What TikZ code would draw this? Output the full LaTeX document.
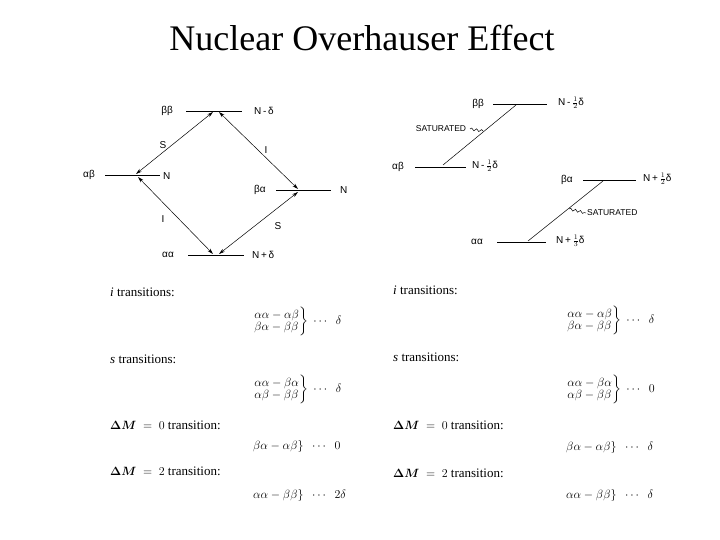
\documentclass[tikz,border=0pt]{standalone}
\usepackage{amsmath}
\usepackage{fontspec}
\setmainfont{Liberation Serif}
\setsansfont{Liberation Sans}
\usetikzlibrary{arrows.meta,decorations.pathmorphing}
\newcommand{\hf}[1]{\ensuremath{\tfrac{1}{#1}}}
\begin{document}
\begin{tikzpicture}[x=1pt,y=-1pt,
  lvl/.style={line width=0.8pt},
  lab/.style={font=\sffamily\fontsize{10}{11}\selectfont,inner sep=0pt},
  tr/.style={{Stealth[length=6pt,width=3.5pt]}-{Stealth[length=6pt,width=3.5pt]},line width=0.5pt},
  sat/.style={line width=0.5pt},
  wig/.style={decorate,decoration={snake,amplitude=1.2pt,segment length=5pt},line width=0.5pt},
  txt/.style={anchor=west,font=\fontsize{13}{15}\selectfont,inner sep=0pt},
  eq/.style={anchor=west,font=\fontsize{13}{15}\selectfont,inner sep=0pt}]
\useasboundingbox (0,0) rectangle (720,540);
\node (title) at (362,38) {\fontsize{36}{40}\selectfont Nuclear Overhauser Effect};
% left diagram
\coordinate (bbL) at (186,111); \coordinate (bbR) at (242,111);
\coordinate (abL) at (105,175); \coordinate (abR) at (160,175);
\coordinate (baL) at (276,190); \coordinate (baR) at (331,190);
\coordinate (aaL) at (188,255); \coordinate (aaR) at (244,255);
\draw[lvl] (bbL) -- (bbR); \draw[lvl] (abL) -- (abR);
\draw[lvl] (baL) -- (baR); \draw[lvl] (aaL) -- (aaR);
\node[lab] (l1) at (167,111) {ββ};
\node[lab,anchor=west] (l2) at (254,111) {N\,-\,δ};
\node[lab] (l3) at (89,175) {αβ};
\node[lab,anchor=west] (l4) at (163,176) {N};
\node[lab] (l5) at (260,190) {βα};
\node[lab,anchor=west] (l6) at (340,190) {N};
\node[lab] (l7) at (168,255) {αα};
\node[lab,anchor=west] (l8) at (252,255) {N\,+\,δ};
\coordinate (p1) at (213,112); \coordinate (p2) at (136,174);
\coordinate (p3) at (219,112); \coordinate (p4) at (298,189);
\coordinate (p5) at (213,254); \coordinate (p6) at (138,177);
\coordinate (p7) at (219,254); \coordinate (p8) at (298,192);
\draw[tr] (p2) -- (p1); \draw[tr] (p3) -- (p4);
\draw[tr] (p6) -- (p5); \draw[tr] (p7) -- (p8);
\node[lab] (s1) at (163,145) {S};
\node[lab] (i1) at (266,150) {I};
\node[lab] (i2) at (163,219) {I};
\node[lab] (s2) at (278,226) {S};
% right diagram
\coordinate (rbbL) at (493,104); \coordinate (rbbR) at (547,104);
\coordinate (rabL) at (415,167); \coordinate (rabR) at (466,167);
\coordinate (rbaL) at (583,180); \coordinate (rbaR) at (636,180);
\coordinate (raaL) at (497,242); \coordinate (raaR) at (546,242);
\draw[lvl] (rbbL) -- (rbbR); \draw[lvl] (rabL) -- (rabR);
\draw[lvl] (rbaL) -- (rbaR); \draw[lvl] (raaL) -- (raaR);
\node[lab] (r1) at (478,104) {ββ};
\node[lab,anchor=west] (r2) at (558,103) {N\,-\,\hf{2}δ};
\node[lab] (r3) at (398,167) {αβ};
\node[lab,anchor=west] (r4) at (472,166) {N\,-\,\hf{2}δ};
\node[lab] (r5) at (567,180) {βα};
\node[lab,anchor=west] (r6) at (643,179) {N\,+\,\hf{2}δ};
\node[lab] (r7) at (477,242) {αα};
\node[lab,anchor=west] (r8) at (556,241) {N\,+\,\hf{3}δ};
\coordinate (q1) at (516,105); \coordinate (q2) at (443,165);
\coordinate (q3) at (603,181); \coordinate (q4) at (528,241);
\draw[sat] (q1) -- (q2); \draw[sat] (q3) -- (q4);
\node[lab,font=\sffamily\fontsize{8.5}{9}\selectfont] (sat1) at (441,129) {SATURATED};
\coordinate (w1) at (470,129); \coordinate (w2) at (483,131);
\draw[wig] (w1) -- (w2);
\node[lab,font=\sffamily\fontsize{8.5}{9}\selectfont,anchor=west] (sat2) at (587,213) {SATURATED};
\coordinate (w3) at (569,209); \coordinate (w4) at (586,213);
\draw[wig] (w3) -- (w4);
% left text
\node[txt] (t1) at (110,292) {\textit{i} transitions:};
\node[eq] (e1) at (253,321) {$\left.\begin{array}{@{}l@{}}\alpha\alpha-\alpha\beta\\[-3pt] \beta\alpha-\beta\beta\end{array}\right\}\ \cdots\ \ \delta$};
\node[txt] (t2) at (110,359) {\textit{s} transitions:};
\node[eq] (e2) at (253,389) {$\left.\begin{array}{@{}l@{}}\alpha\alpha-\beta\alpha\\[-3pt] \alpha\beta-\beta\beta\end{array}\right\}\ \cdots\ \ \delta$};
\node[txt] (t3) at (110,425) {$\boldsymbol{\Delta M}\ =\ 0$ transition:};
\node[eq] (e3) at (253,446) {$\beta\alpha-\alpha\beta\}\ \ \cdots\ \ 0$};
\node[txt] (t4) at (110,471) {$\boldsymbol{\Delta M}\ =\ 2$ transition:};
\node[eq] (e4) at (253,495) {$\alpha\alpha-\beta\beta\}\ \ \cdots\ \ 2\delta$};
% right text
\node[txt] (u1) at (393,290) {\textit{i} transitions:};
\node[eq] (f1) at (566,320) {$\left.\begin{array}{@{}l@{}}\alpha\alpha-\alpha\beta\\[-3pt] \beta\alpha-\beta\beta\end{array}\right\}\ \cdots\ \ \delta$};
\node[txt] (u2) at (393,357) {\textit{s} transitions:};
\node[eq] (f2) at (566,389) {$\left.\begin{array}{@{}l@{}}\alpha\alpha-\beta\alpha\\[-3pt] \alpha\beta-\beta\beta\end{array}\right\}\ \cdots\ \ 0$};
\node[txt] (u3) at (393,425) {$\boldsymbol{\Delta M}\ =\ 0$ transition:};
\node[eq] (f3) at (566,447) {$\beta\alpha-\alpha\beta\}\ \ \cdots\ \ \delta$};
\node[txt] (u4) at (393,473) {$\boldsymbol{\Delta M}\ =\ 2$ transition:};
\node[eq] (f4) at (566,495) {$\alpha\alpha-\beta\beta\}\ \ \cdots\ \ \delta$};
\end{tikzpicture}
\end{document}
